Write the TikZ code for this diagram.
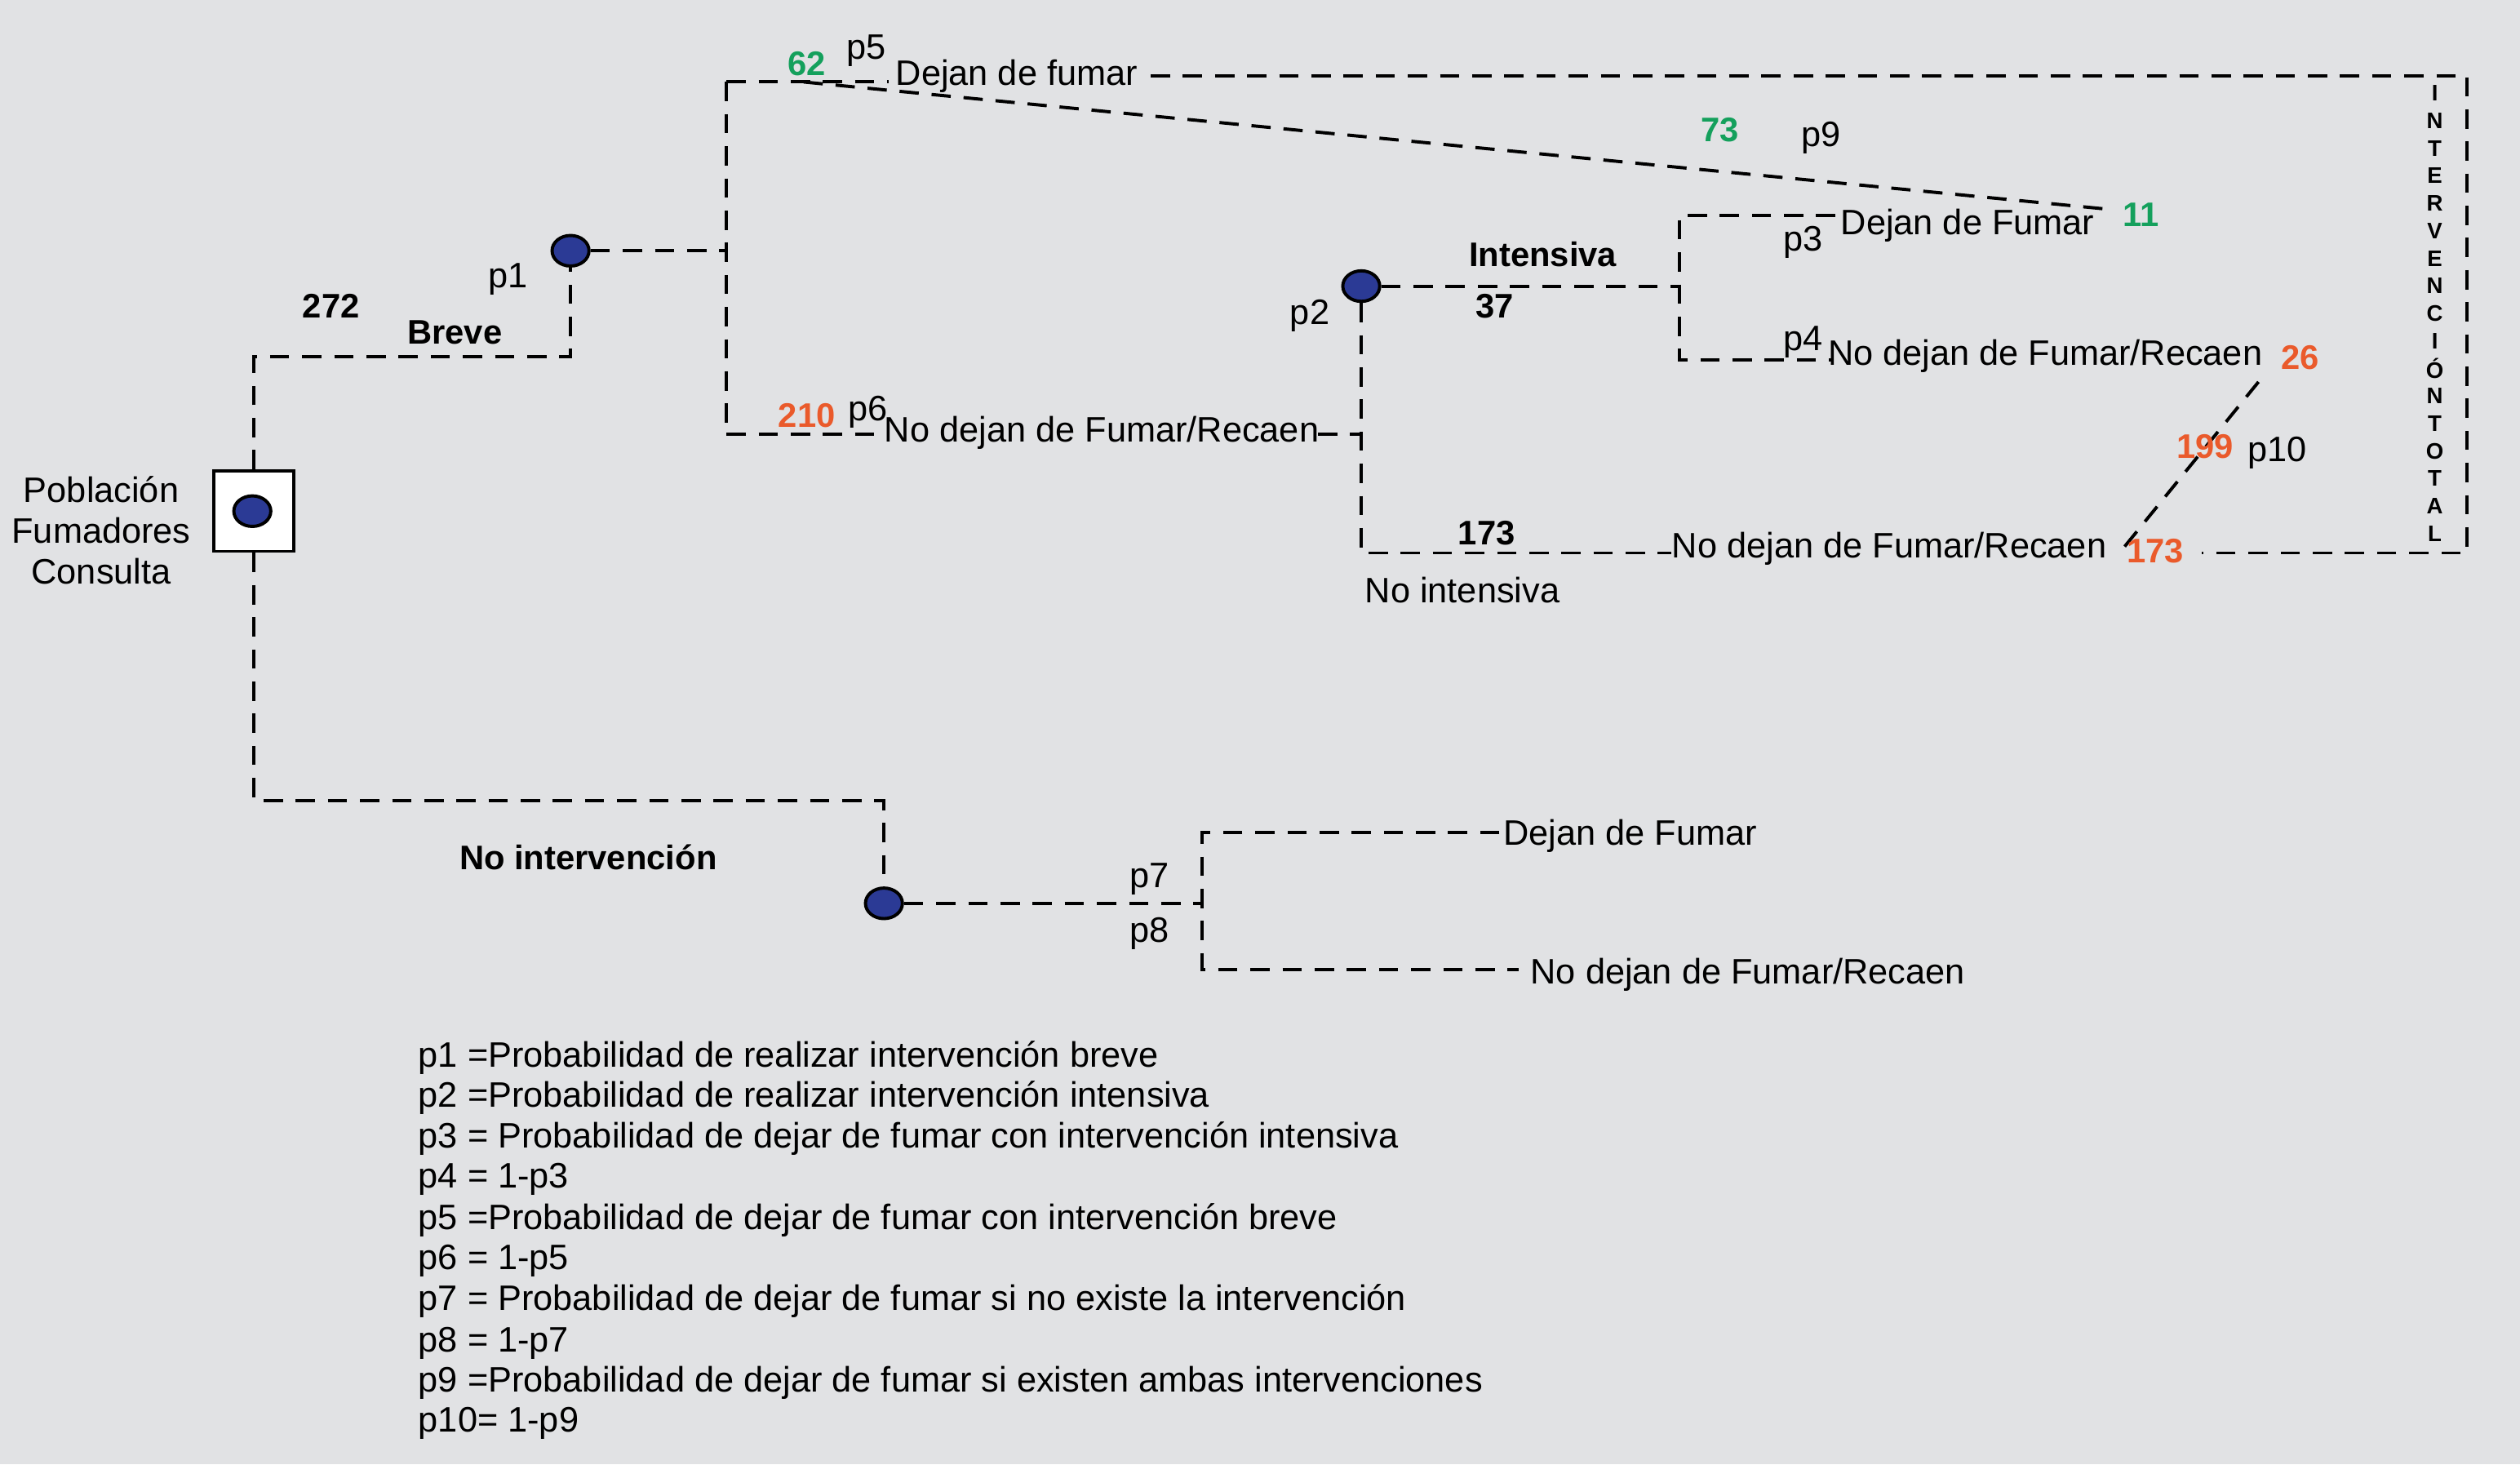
\documentclass[tikz,border=0pt]{standalone}
\usepackage{fontspec}
\setmainfont{Liberation Sans}
\usetikzlibrary{shapes.geometric}
\definecolor{bgc}{HTML}{E1E2E4}
\definecolor{nodeblue}{HTML}{2B3A95}
\definecolor{grn}{HTML}{14A05C}
\definecolor{org}{HTML}{EA5A2B}
\begin{document}
\begin{tikzpicture}[x=0.5pt,y=-0.5pt,
  lbl/.style={font=\fontsize{11}{12.65}\selectfont, inner sep=0pt},
  num/.style={inner sep=0pt, font=\fontsize{10.6}{12.65}\selectfont\bfseries},
  vlet/.style={inner sep=0pt, font=\fontsize{7}{8}\selectfont\bfseries},
  chance/.style={ellipse, draw=black, line width=1pt, fill=nodeblue, minimum width=11.5pt, minimum height=9.5pt, inner sep=0pt},
  dl/.style={draw=black, line width=1pt, dash pattern=on 6pt off 4pt},
]
\fill[bgc] (0,0) rectangle (1568,911);
\useasboundingbox (0,0) rectangle (1568,911);

% nodes
\node[draw=black, fill=white, line width=1pt, minimum size=25pt, inner sep=0pt] (root) at (158,318) {};
\node[chance] (c0) at (157,318) {};
\node[chance] (c1) at (355,156) {};
\node[chance] (c2) at (847,178) {};
\node[chance] (c3) at (550,562) {};

% coordinates
\coordinate (a1) at (158,222);
\coordinate (a2) at (355,222);
\coordinate (b0) at (452,156);
\coordinate (bt) at (452,51);
\coordinate (bb) at (452,270);
\coordinate (bt2) at (553,51);
\coordinate (tr0) at (716,47);
\coordinate (trc) at (1535,47);
\coordinate (trc2) at (1535,344);
\coordinate (tr3) at (1370,344);
\coordinate (d0) at (500,51);
\coordinate (d1) at (1310,130);
\coordinate (bb2) at (548,270);
\coordinate (bb3) at (820,270);
\coordinate (bb4) at (847,270);
\coordinate (e1) at (847,344);
\coordinate (e2) at (1040,344);
\coordinate (f0) at (1045,178);
\coordinate (ft) at (1045,134);
\coordinate (fb) at (1045,224);
\coordinate (f1) at (1142,134);
\coordinate (f2) at (1140,224);
\coordinate (g0) at (1322,340);
\coordinate (g1) at (1409,233);
\coordinate (h1) at (158,498);
\coordinate (h2) at (550,498);
\coordinate (k0) at (748,562);
\coordinate (kt) at (748,518);
\coordinate (kb) at (748,603);
\coordinate (k1) at (933,518);
\coordinate (k2) at (945,603);

% connectors
\draw[dl] (root.north) -- (a1) -- (a2) -- (c1.south);
\draw[dl] (c1.east) -- (b0);
\draw[dl] (bt) -- (bb);
\draw[dl] (bt) -- (bt2);
\draw[dl] (tr0) -- (trc) -- (trc2) -- (tr3);
\draw[dl] (d0) -- (d1);
\draw[dl] (bb) -- (bb2);
\draw[dl] (bb3) -- (bb4);
\draw[dl] (c2.south) -- (e1) -- (e2);
\draw[dl] (c2.east) -- (f0);
\draw[dl] (f1) -- (ft) -- (fb) -- (f2);
\draw[dl] (g0) -- (g1);
\draw[dl] (root.south) -- (h1) -- (h2) -- (c3.north);
\draw[dl] (c3.east) -- (k0);
\draw[dl] (k1) -- (kt) -- (kb) -- (k2);

% labels
\node[lbl, align=center] (pop) at (63,330) {Población\\Fumadores\\Consulta};
\node[num, anchor=base] (n272) at (206,198) {272};
\node[num, anchor=base] (breve) at (283,214) {Breve};
\node[lbl, anchor=base] (p1) at (316,179) {p1};
\node[num, anchor=base, text=grn] (n62) at (502,47) {62};
\node[lbl, anchor=base] (p5) at (539,37) {p5};
\node[lbl, anchor=base west] (dj1) at (557,53) {Dejan de fumar};
\node[num, anchor=base, text=grn] (n73) at (1070,88) {73};
\node[lbl, anchor=base] (p9) at (1133,91) {p9};
\node[num, anchor=base, text=grn] (n11) at (1332,141) {11};
\node[num, anchor=base, text=org] (n210) at (502,266) {210};
\node[lbl, anchor=base] (p6) at (540,262) {p6};
\node[lbl, anchor=base west] (nd1) at (550,275) {No dejan de Fumar/Recaen};
\node[lbl, anchor=base] (p2) at (815,202) {p2};
\node[num, anchor=base] (int) at (960,166) {Intensiva};
\node[num, anchor=base] (n37) at (930,198) {37};
\node[lbl, anchor=base] (p3) at (1122,156) {p3};
\node[lbl, anchor=base west] (dj2) at (1145,146) {Dejan de Fumar};
\node[lbl, anchor=base] (p4) at (1122,218) {p4};
\node[lbl, anchor=base west] (nd2) at (1137,227) {No dejan de Fumar/Recaen};
\node[num, anchor=base, text=org] (n26) at (1431,230) {26};
\node[num, anchor=base, text=org] (n199) at (1372,285) {199};
\node[lbl, anchor=base] (p10) at (1417,287) {p10};
\node[num, anchor=base] (n173) at (925,339) {173};
\node[lbl, anchor=base west] (nint) at (849,375) {No intensiva};
\node[lbl, anchor=base west] (nd3) at (1040,347) {No dejan de Fumar/Recaen};
\node[num, anchor=base, text=org] (n173b) at (1341,350) {173};
\node[num, anchor=base] (noint) at (366,541) {No intervención};
\node[lbl, anchor=base] (p7) at (715,552) {p7};
\node[lbl, anchor=base] (p8) at (715,586) {p8};
\node[lbl, anchor=base west] (dj3) at (935,526) {Dejan de Fumar};
\node[lbl, anchor=base west] (nd4) at (952,612) {No dejan de Fumar/Recaen};

% vertical text
\foreach \ch [count=\i from 0] in {I,N,T,E,R,V,E,N,C,I,Ó,N,T,O,T,A,L}
  \node[vlet] (v\i) at (1515,{58+17.125*\i}) {\ch};

% legend
\node[lbl, anchor=base west] (l1) at (260,664) {p1 =Probabilidad de realizar intervención breve};
\node[lbl, anchor=base west] (l2) at (260,689) {p2 =Probabilidad de realizar intervención intensiva};
\node[lbl, anchor=base west] (l3) at (260,714) {p3 = Probabilidad de dejar de fumar con intervención intensiva};
\node[lbl, anchor=base west] (l4) at (260,739) {p4 = 1-p3};
\node[lbl, anchor=base west] (l5) at (260,765) {p5 =Probabilidad de dejar de fumar con intervención breve};
\node[lbl, anchor=base west] (l6) at (260,790) {p6 = 1-p5};
\node[lbl, anchor=base west] (l7) at (260,815) {p7 = Probabilidad de dejar de fumar si no existe la intervención};
\node[lbl, anchor=base west] (l8) at (260,841) {p8 = 1-p7};
\node[lbl, anchor=base west] (l9) at (260,866) {p9 =Probabilidad de dejar de fumar si existen ambas intervenciones};
\node[lbl, anchor=base west] (l10) at (260,891) {p10= 1-p9};
\end{tikzpicture}
\end{document}
